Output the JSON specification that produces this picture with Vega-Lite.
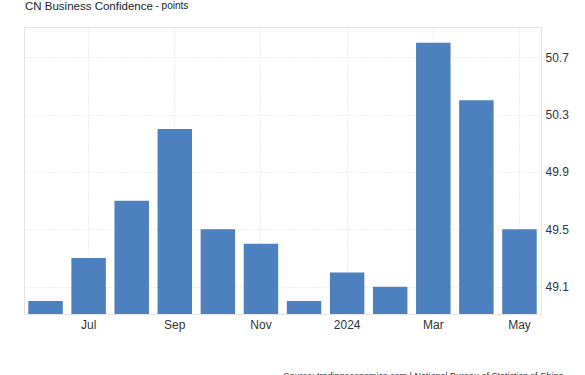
{
  "$schema": "https://vega.github.io/schema/vega-lite/v6.json",
  "width": 517,
  "height": 287,
  "autosize": {"type": "none"},
  "padding": {"left": 24, "top": 27, "right": 44, "bottom": 61},
  "background": "white",
  "title": {
    "text": "CN Business Confidence",
    "anchor": "start",
    "frame": "group",
    "font": "Liberation Sans",
    "fontSize": 11.5,
    "fontWeight": "normal",
    "color": "#222222",
    "baseline": "alphabetic",
    "offset": -21,
    "dx": 1
  },
  "config": {
    "view": {"stroke": "#e4e4e4", "strokeWidth": 1},
    "font": "Liberation Sans"
  },
  "data": {
    "values": [
      {"date": "2023-06", "value": 49.0},
      {"date": "2023-07", "value": 49.3},
      {"date": "2023-08", "value": 49.7},
      {"date": "2023-09", "value": 50.2},
      {"date": "2023-10", "value": 49.5},
      {"date": "2023-11", "value": 49.4},
      {"date": "2023-12", "value": 49.0},
      {"date": "2024-01", "value": 49.2},
      {"date": "2024-02", "value": 49.1},
      {"date": "2024-03", "value": 50.8},
      {"date": "2024-04", "value": 50.4},
      {"date": "2024-05", "value": 49.5}
    ]
  },
  "mark": {"type": "bar", "color": "#4c80bf", "clip": true},
  "encoding": {
    "x": {
      "field": "date",
      "type": "ordinal",
      "scale": {"paddingInner": 0.2, "paddingOuter": 0.1},
      "axis": {
        "values": ["2023-07", "2023-09", "2023-11", "2024-01", "2024-03", "2024-05"],
        "labelExpr": "datum.value == '2024-01' ? '2024' : ['Jan','Feb','Mar','Apr','May','Jun','Jul','Aug','Sep','Oct','Nov','Dec'][toNumber(substring(datum.value, 5, 7)) - 1]",
        "labelAngle": 0,
        "labelFontSize": 12,
        "labelColor": "#333333",
        "labelPadding": 5,
        "ticks": false,
        "domain": false,
        "grid": true,
        "bandPosition": 0.5,
        "gridColor": "#dcdcdc",
        "gridDash": [1, 2],
        "gridWidth": 1,
        "title": "Source: tradingeconomics.com | National Bureau of Statistics of China",
        "titleFontSize": 9,
        "titleFontWeight": "normal",
        "titleColor": "#333333",
        "titleAlign": "left",
        "titleBaseline": "top",
        "titleAnchor": "start",
        "titleX": 259,
        "titleY": 57
      }
    },
    "y": {
      "field": "value",
      "type": "quantitative",
      "scale": {"domain": [48.91, 50.91], "nice": false, "zero": false},
      "axis": {
        "orient": "right",
        "values": [49.1, 49.5, 49.9, 50.3, 50.7],
        "format": ".1f",
        "labelFontSize": 12,
        "labelColor": "#333333",
        "labelPadding": 4,
        "ticks": false,
        "domain": false,
        "grid": true,
        "gridColor": "#dcdcdc",
        "gridDash": [1, 2],
        "gridWidth": 1,
        "title": "- points",
        "titleAngle": 0,
        "titleFontSize": 10,
        "titleFontWeight": "normal",
        "titleColor": "#222222",
        "titleAlign": "left",
        "titleBaseline": "alphabetic",
        "titleX": -386,
        "titleY": -19
      }
    }
  }
}
